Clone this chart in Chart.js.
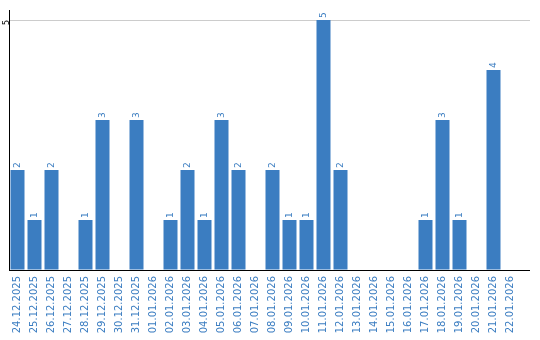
<!DOCTYPE html>
<html><head><meta charset="utf-8">
<script src="https://cdn.jsdelivr.net/npm/chart.js@4/dist/chart.umd.min.js"></script>
<style>html,body{margin:0;padding:0;background:#fff}</style>
</head><body>
<canvas id="c" width="540" height="340"></canvas>
<script>
const categories = ["24.12.2025","25.12.2025","26.12.2025","27.12.2025","28.12.2025","29.12.2025","30.12.2025","31.12.2025","01.01.2026","02.01.2026","03.01.2026","04.01.2026","05.01.2026","06.01.2026","07.01.2026","08.01.2026","09.01.2026","10.01.2026","11.01.2026","12.01.2026","13.01.2026","14.01.2026","15.01.2026","16.01.2026","17.01.2026","18.01.2026","19.01.2026","20.01.2026","21.01.2026","22.01.2026"];
const counts = [2,1,2,0,1,3,0,3,0,1,2,1,3,2,0,2,1,1,5,2,0,0,0,0,1,3,1,0,4,0];
const yTickValues = [5];

const BLUE = '#3b7dc1';

const valueLabels = {
  id: 'valueLabels',
  afterDatasetsDraw(chart) {
    const ctx = chart.ctx;
    const meta = chart.getDatasetMeta(0);
    ctx.save();
    ctx.fillStyle = BLUE;
    ctx.font = '9px "DejaVu Sans"';
    meta.data.forEach((bar, i) => {
      const v = counts[i];
      if (!v) return;
      ctx.save();
      ctx.translate(bar.x, bar.y - 2);
      ctx.rotate(-Math.PI / 2);
      ctx.textAlign = 'left';
      ctx.textBaseline = 'middle';
      ctx.fillText(String(v), 0, 0);
      ctx.restore();
    });
    ctx.restore();
  }
};

const axisExtend = {
  id: 'axisExtend',
  afterDraw(chart) {
    const ctx = chart.ctx, a = chart.chartArea, y = chart.scales.y;
    ctx.save();
    ctx.lineWidth = 1;
    ctx.strokeStyle = '#cccccc';
    const y5 = Math.round(y.getPixelForValue(5)) + 0.5;
    ctx.beginPath(); ctx.moveTo(a.right, y5); ctx.lineTo(530, y5); ctx.stroke();
    ctx.strokeStyle = '#000';
    const y0 = Math.round(y.getPixelForValue(0)) + 0.5;
    ctx.beginPath(); ctx.moveTo(a.right - 1, y0); ctx.lineTo(530, y0); ctx.stroke();
    ctx.restore();
  }
};

new Chart(document.getElementById('c'), {
  type: 'bar',
  data: {
    labels: categories,
    datasets: [{
      data: counts,
      backgroundColor: BLUE,
      borderWidth: 0,
      barPercentage: 14/17,
      categoryPercentage: 1
    }]
  },
  options: {
    responsive: false,
    animation: false,
    layout: { padding: { top: 10, right: 21, left: 0, bottom: 0 } },
    plugins: { legend: { display: false }, tooltip: { enabled: false } },
    scales: {
      x: {
        grid: { display: false, drawTicks: false },
        border: { color: '#000', width: 1 },
        ticks: {
          color: BLUE,
          font: { family: 'DejaVu Sans', size: 10 },
          minRotation: 90, maxRotation: 90,
          autoSkip: false,
          padding: 6
        },
        afterFit(s) { s.height = 70; }
      },
      y: {
        min: 0, max: 5.2,
        grid: {
          drawTicks: false,
          color: c => (c.tick && yTickValues.includes(c.tick.value)) ? '#cccccc' : 'rgba(0,0,0,0)'
        },
        border: { color: '#000', width: 1 },
        ticks: {
          stepSize: 5,
          includeBounds: false,
          color: '#000',
          font: { family: 'DejaVu Sans', size: 8 },
          minRotation: 90, maxRotation: 90,
          padding: 2,
          callback: v => yTickValues.includes(v) ? String(v) : ''
        },
        afterFit(s) { s.width = 9; }
      }
    }
  },
  plugins: [valueLabels, axisExtend]
});
</script>
</body></html>
